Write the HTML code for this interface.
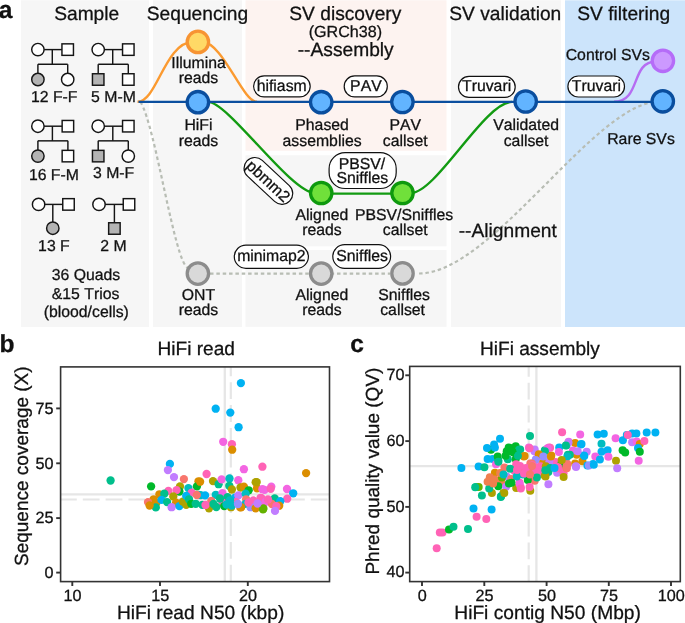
<!DOCTYPE html>
<html><head><meta charset="utf-8"><style>
html,body{margin:0;padding:0;background:#fff;}
svg{display:block;will-change:transform;}
text{font-family:"Liberation Sans", sans-serif;fill:#111;font-kerning:none;text-rendering:geometricPrecision;stroke:#111;stroke-width:0.28px;}
</style></head><body>
<svg width="685" height="623" viewBox="0 0 685 623" text-rendering="geometricPrecision">
<rect width="685" height="623" fill="#fff"/>
<rect x="21" y="0.3" width="128" height="326.7" fill="#f6f6f6"/>
<rect x="153" y="0.3" width="89" height="326.7" fill="#f6f6f6"/>
<rect x="245.5" y="0.3" width="201" height="150.5" fill="#fdf3f0"/>
<rect x="245.5" y="155.3" width="201" height="91" fill="#f6f6f6"/>
<rect x="245.5" y="250" width="201" height="76.8" fill="#f6f6f6"/>
<rect x="451" y="0.3" width="110" height="326.7" fill="#f6f6f6"/>
<rect x="565" y="0.3" width="120" height="326.7" fill="#cce4fb"/>
<text x="86.7" y="19.8" font-size="19.2" text-anchor="middle" >Sample</text>
<text x="197.5" y="19.8" font-size="19.2" text-anchor="middle" >Sequencing</text>
<text x="345.3" y="19.9" font-size="19.2" text-anchor="middle" >SV discovery</text>
<text x="345.4" y="37.35" font-size="16.1" text-anchor="middle" >(GRCh38)</text>
<text x="345.7" y="55.7" font-size="19.2" text-anchor="middle" >--Assembly</text>
<text x="505.3" y="19.8" font-size="19.2" text-anchor="middle" >SV validation</text>
<text x="623.7" y="19.8" font-size="19.2" text-anchor="middle" >SV filtering</text>
<text x="-1.3" y="17.6" font-size="24.6" font-weight="bold">a</text>
<line x1="43.9" y1="49.6" x2="62.1" y2="49.6" stroke="#151515" stroke-width="1.45"/><line x1="52.3" y1="49.6" x2="52.3" y2="64.25" stroke="#151515" stroke-width="1.45"/><line x1="37.9" y1="64.25" x2="67.7" y2="64.25" stroke="#151515" stroke-width="1.45"/><line x1="37.9" y1="64.25" x2="37.9" y2="73.5" stroke="#151515" stroke-width="1.45"/><line x1="67.7" y1="64.25" x2="67.7" y2="73.5" stroke="#151515" stroke-width="1.45"/><circle cx="37.9" cy="49.6" r="6.2" fill="#fff" stroke="#151515" stroke-width="1.45"/><rect x="61.95" y="43.85" width="11.5" height="11.5" fill="#fff" stroke="#151515" stroke-width="1.45"/><circle cx="37.9" cy="79.5" r="6.2" fill="#b3b3b3" stroke="#151515" stroke-width="1.45"/><circle cx="67.7" cy="79.5" r="6.2" fill="#fff" stroke="#151515" stroke-width="1.45"/>
<line x1="104.2" y1="49.6" x2="122.70000000000002" y2="49.6" stroke="#151515" stroke-width="1.45"/><line x1="112.7" y1="49.6" x2="112.7" y2="64.25" stroke="#151515" stroke-width="1.45"/><line x1="98.2" y1="64.25" x2="128.3" y2="64.25" stroke="#151515" stroke-width="1.45"/><line x1="98.2" y1="64.25" x2="98.2" y2="73.5" stroke="#151515" stroke-width="1.45"/><line x1="128.3" y1="64.25" x2="128.3" y2="73.5" stroke="#151515" stroke-width="1.45"/><circle cx="98.2" cy="49.6" r="6.2" fill="#fff" stroke="#151515" stroke-width="1.45"/><rect x="122.55" y="43.85" width="11.5" height="11.5" fill="#fff" stroke="#151515" stroke-width="1.45"/><rect x="92.45" y="73.75" width="11.5" height="11.5" fill="#b3b3b3" stroke="#151515" stroke-width="1.45"/><rect x="122.55" y="73.75" width="11.5" height="11.5" fill="#fff" stroke="#151515" stroke-width="1.45"/>
<line x1="43.9" y1="126.2" x2="62.300000000000004" y2="126.2" stroke="#151515" stroke-width="1.45"/><line x1="52.4" y1="126.2" x2="52.4" y2="140.85" stroke="#151515" stroke-width="1.45"/><line x1="37.9" y1="140.85" x2="67.9" y2="140.85" stroke="#151515" stroke-width="1.45"/><line x1="37.9" y1="140.85" x2="37.9" y2="150.1" stroke="#151515" stroke-width="1.45"/><line x1="67.9" y1="140.85" x2="67.9" y2="150.1" stroke="#151515" stroke-width="1.45"/><circle cx="37.9" cy="126.2" r="6.2" fill="#fff" stroke="#151515" stroke-width="1.45"/><rect x="62.15" y="120.45" width="11.5" height="11.5" fill="#fff" stroke="#151515" stroke-width="1.45"/><circle cx="37.9" cy="156.1" r="6.2" fill="#b3b3b3" stroke="#151515" stroke-width="1.45"/><rect x="62.15" y="150.35" width="11.5" height="11.5" fill="#fff" stroke="#151515" stroke-width="1.45"/>
<line x1="104.2" y1="126.2" x2="122.70000000000002" y2="126.2" stroke="#151515" stroke-width="1.45"/><line x1="112.8" y1="126.2" x2="112.8" y2="140.85" stroke="#151515" stroke-width="1.45"/><line x1="98.2" y1="140.85" x2="128.3" y2="140.85" stroke="#151515" stroke-width="1.45"/><line x1="98.2" y1="140.85" x2="98.2" y2="150.1" stroke="#151515" stroke-width="1.45"/><line x1="128.3" y1="140.85" x2="128.3" y2="150.1" stroke="#151515" stroke-width="1.45"/><circle cx="98.2" cy="126.2" r="6.2" fill="#fff" stroke="#151515" stroke-width="1.45"/><rect x="122.55" y="120.45" width="11.5" height="11.5" fill="#fff" stroke="#151515" stroke-width="1.45"/><rect x="92.45" y="150.35" width="11.5" height="11.5" fill="#b3b3b3" stroke="#151515" stroke-width="1.45"/><circle cx="128.3" cy="156.1" r="6.2" fill="#fff" stroke="#151515" stroke-width="1.45"/>
<line x1="44.6" y1="204.4" x2="62.9" y2="204.4" stroke="#151515" stroke-width="1.45"/><line x1="52.8" y1="204.4" x2="52.8" y2="222.2" stroke="#151515" stroke-width="1.45"/><circle cx="38.6" cy="204.4" r="6.2" fill="#fff" stroke="#151515" stroke-width="1.45"/><rect x="62.75" y="198.65" width="11.5" height="11.5" fill="#fff" stroke="#151515" stroke-width="1.45"/><circle cx="52.8" cy="228.2" r="6.2" fill="#b3b3b3" stroke="#151515" stroke-width="1.45"/>
<line x1="105.0" y1="204.4" x2="123.4" y2="204.4" stroke="#151515" stroke-width="1.45"/><line x1="114.4" y1="204.4" x2="114.4" y2="222.5" stroke="#151515" stroke-width="1.45"/><circle cx="99.0" cy="204.4" r="6.2" fill="#fff" stroke="#151515" stroke-width="1.45"/><rect x="123.25" y="198.65" width="11.5" height="11.5" fill="#fff" stroke="#151515" stroke-width="1.45"/><rect x="108.65" y="222.75" width="11.5" height="11.5" fill="#b3b3b3" stroke="#151515" stroke-width="1.45"/>
<text x="54.2" y="102.15" font-size="15.8" text-anchor="middle" >12 F-F</text>
<text x="113.5" y="102.15" font-size="15.8" text-anchor="middle" >5 M-M</text>
<text x="53.9" y="179.7" font-size="15.8" text-anchor="middle" >16 F-M</text>
<text x="113.6" y="177.5" font-size="15.8" text-anchor="middle" >3 M-F</text>
<text x="53.9" y="250.6" font-size="15.8" text-anchor="middle" >13 F</text>
<text x="113.5" y="250.6" font-size="15.8" text-anchor="middle" >2 M</text>
<text x="86.0" y="279.6" font-size="15.8" text-anchor="middle" >36 Quads</text>
<text x="85.6" y="298.7" font-size="15.8" text-anchor="middle" >&amp;15 Trios</text>
<text x="86.3" y="317.4" font-size="15.8" text-anchor="middle" >(blood/cells)</text>
<path d="M140,42 C152,42 152,42 140,42" fill="none"/>
<path d="M137.5,101.8 C157,101.8 165,42 193,42 M202.1,42 C222.9,42 242.4,101.8 256.9,101.8" fill="none" stroke="#fb9a30" stroke-width="2.4"/>
<path d="M140.5,102 C155.6,125.9 174.5,263 188,268" fill="none" stroke="#b8bdb4" stroke-width="2.2" stroke-dasharray="3.5 2.85"/>
<path d="M210,273.6 L390,273.6" fill="none" stroke="#b8bdb4" stroke-width="2.2" stroke-dasharray="3.5 2.85"/>
<path d="M419.1,273.5 C491.9,273.5 595.4,101.5 659,101.5" fill="none" stroke="#b8bdb4" stroke-width="2.2" stroke-dasharray="3.5 2.85"/>
<path d="M208,101.9 C228.4,101.9 290.8,193 315,193 M321,193.6 L402,193.6 M411,193 C436.2,193 484.8,101.9 512,101.9" fill="none" stroke="#129b12" stroke-width="2.4"/>
<path d="M614,101.8 C641.4,101.8 630.2,61.5 656,61.5" fill="none" stroke="#b66cf2" stroke-width="2.4"/>
<line x1="138.5" y1="101.8" x2="660" y2="101.8" stroke="#0b4f9f" stroke-width="2.2"/>
<circle cx="197.9" cy="41.9" r="10.7" fill="#ffd966" stroke="#f79433" stroke-width="3.3"/>
<circle cx="197.9" cy="102.2" r="10.7" fill="#62b4ff" stroke="#0a4e9e" stroke-width="3.3"/>
<circle cx="197.9" cy="273.6" r="10.7" fill="#d9d9d9" stroke="#8c8c8c" stroke-width="3.3"/>
<circle cx="321.2" cy="102.2" r="10.7" fill="#62b4ff" stroke="#0a4e9e" stroke-width="3.3"/>
<circle cx="402.4" cy="102.0" r="10.7" fill="#62b4ff" stroke="#0a4e9e" stroke-width="3.3"/>
<circle cx="525.7" cy="101.5" r="10.7" fill="#62b4ff" stroke="#0a4e9e" stroke-width="3.3"/>
<circle cx="662.9" cy="60.8" r="10.7" fill="#cc99ff" stroke="#b56cf8" stroke-width="3.3"/>
<circle cx="662.8" cy="101.3" r="10.7" fill="#62b4ff" stroke="#0a4e9e" stroke-width="3.3"/>
<circle cx="321.2" cy="193.0" r="10.7" fill="#70e03a" stroke="#0e990e" stroke-width="3.3"/>
<circle cx="402.5" cy="193.0" r="10.7" fill="#70e03a" stroke="#0e990e" stroke-width="3.3"/>
<circle cx="321.2" cy="273.6" r="10.7" fill="#d9d9d9" stroke="#8c8c8c" stroke-width="3.3"/>
<circle cx="402.5" cy="273.4" r="10.7" fill="#d9d9d9" stroke="#8c8c8c" stroke-width="3.3"/>
<rect x="253.6" y="75.8" width="56.6" height="21.1" rx="10.6" fill="#fff" stroke="#111" stroke-width="1.2"/>
<text x="281.7" y="90.9" font-size="15.8" text-anchor="middle" >hifiasm</text>
<rect x="344.2" y="75.9" width="43.1" height="21.0" rx="10.5" fill="#fff" stroke="#111" stroke-width="1.2"/>
<text x="365.9" y="91.0" font-size="15.8" text-anchor="middle" >PAV</text>
<rect x="458.5" y="76.4" width="56.7" height="21.0" rx="10.5" fill="#fff" stroke="#111" stroke-width="1.2"/>
<text x="486.6" y="91.2" font-size="15.8" text-anchor="middle" >Truvari</text>
<rect x="567.9" y="76.0" width="56.6" height="21.0" rx="10.5" fill="#fff" stroke="#111" stroke-width="1.2"/>
<text x="596.4" y="91.0" font-size="15.8" text-anchor="middle" >Truvari</text>
<rect x="329.1" y="152.7" width="67.1" height="35.8" rx="16.0" fill="#fff" stroke="#111" stroke-width="1.2"/>
<text x="362.0" y="168.95" font-size="15.8" text-anchor="middle" >PBSV/</text>
<text x="362.3" y="182.9" font-size="15.8" text-anchor="middle" >Sniffles</text>
<rect x="234.3" y="245.1" width="74.1" height="23.2" rx="11.6" fill="#fff" stroke="#111" stroke-width="1.2"/>
<text x="271.4" y="261.1" font-size="15.8" text-anchor="middle" >minimap2</text>
<rect x="332.8" y="244.6" width="57.8" height="23.7" rx="11.9" fill="#fff" stroke="#111" stroke-width="1.2"/>
<text x="362.1" y="261.1" font-size="15.8" text-anchor="middle" >Sniffles</text>
<g transform="translate(268.4,180.9) rotate(43)"><rect x="-29.3" y="-10.8" width="58.6" height="21.6" rx="10.8" fill="#fff" stroke="#111" stroke-width="1.2"/><text x="0" y="5.6" font-size="15.8" text-anchor="middle" >pbmm2</text></g>
<text x="507.8" y="236.7" font-size="19.2" text-anchor="middle" >--Alignment</text>
<text x="198.5" y="68.2" font-size="15.8" text-anchor="middle" >Illumina</text><text x="198.5" y="83.2" font-size="15.8" text-anchor="middle" >reads</text>
<text x="198.5" y="130.1" font-size="15.8" text-anchor="middle" >HiFi</text><text x="198.5" y="146.2" font-size="15.8" text-anchor="middle" >reads</text>
<text x="198.5" y="300.3" font-size="15.8" text-anchor="middle" >ONT</text><text x="198.5" y="315.4" font-size="15.8" text-anchor="middle" >reads</text>
<text x="322.1" y="130.2" font-size="15.8" text-anchor="middle" >Phased</text><text x="322.1" y="146.2" font-size="15.8" text-anchor="middle" >assemblies</text>
<text x="405.2" y="130.2" font-size="15.8" text-anchor="middle" >PAV</text><text x="405.2" y="146.2" font-size="15.8" text-anchor="middle" >callset</text>
<text x="526.1" y="130.2" font-size="15.8" text-anchor="middle" >Validated</text><text x="526.1" y="146.2" font-size="15.8" text-anchor="middle" >callset</text>
<text x="650.0" y="60.1" font-size="15.8" text-anchor="end" >Control SVs</text>
<text x="674.8" y="143.5" font-size="15.8" text-anchor="end" >Rare SVs</text>
<text x="321.9" y="220.2" font-size="15.8" text-anchor="middle" >Aligned</text><text x="321.9" y="235.2" font-size="15.8" text-anchor="middle" >reads</text>
<text x="404.1" y="220.2" font-size="15.8" text-anchor="middle" >PBSV/Sniffles</text><text x="405.2" y="235.2" font-size="15.8" text-anchor="middle" >callset</text>
<text x="321.9" y="300.2" font-size="15.8" text-anchor="middle" >Aligned</text><text x="321.9" y="315.4" font-size="15.8" text-anchor="middle" >reads</text>
<text x="404.1" y="300.2" font-size="15.8" text-anchor="middle" >Sniffles</text><text x="402.6" y="315.4" font-size="15.8" text-anchor="middle" >callset</text>
<text x="-0.6" y="352.3" font-size="24.6" font-weight="bold">b</text>
<text x="196.2" y="354.7" font-size="19.1" text-anchor="middle" >HiFi read</text>
<rect x="60.6" y="366.9" width="268.9" height="214.7" fill="#fff"/>
<line x1="60.6" y1="494.3" x2="329.5" y2="494.3" stroke="#e6e6e6" stroke-width="2.3"/>
<line x1="60.6" y1="499.5" x2="329.5" y2="499.5" stroke="#e6e6e6" stroke-width="2.2" stroke-dasharray="16.8 6" stroke-dashoffset="23.4"/>
<line x1="224.8" y1="366.9" x2="224.8" y2="581.6" stroke="#e6e6e6" stroke-width="2.3"/>
<line x1="230.8" y1="581.5" x2="230.8" y2="366.9" stroke="#e6e6e6" stroke-width="2.2" stroke-dasharray="16.8 6"/>
<circle cx="169.9" cy="463.9" r="4.15" fill="#00B2F2"/>
<circle cx="167.9" cy="470.1" r="4.15" fill="#C17DFF"/>
<circle cx="174.0" cy="477.1" r="4.15" fill="#C17DFF"/>
<circle cx="183.9" cy="479.1" r="4.15" fill="#F8766D"/>
<circle cx="151.1" cy="486.4" r="4.15" fill="#00B92A"/>
<circle cx="180.0" cy="486.4" r="4.15" fill="#AEA200"/>
<circle cx="179.4" cy="491.5" r="4.15" fill="#00B92A"/>
<circle cx="168.4" cy="490.9" r="4.15" fill="#FF63B6"/>
<circle cx="176.6" cy="490.1" r="4.15" fill="#FF63B6"/>
<circle cx="188.4" cy="488.1" r="4.15" fill="#00BDC0"/>
<circle cx="198.5" cy="481.3" r="4.15" fill="#DB8E00"/>
<circle cx="196.9" cy="486.4" r="4.15" fill="#00B92A"/>
<circle cx="191.6" cy="492.6" r="4.15" fill="#FF63B6"/>
<circle cx="198.5" cy="494.8" r="4.15" fill="#00BDC0"/>
<circle cx="159.4" cy="494.3" r="4.15" fill="#DB8E00"/>
<circle cx="164.3" cy="493.7" r="4.15" fill="#00BF8C"/>
<circle cx="153.6" cy="499.3" r="4.15" fill="#DB8E00"/>
<circle cx="148.0" cy="502.1" r="4.15" fill="#F8766D"/>
<circle cx="156.4" cy="502.7" r="4.15" fill="#DB8E00"/>
<circle cx="155.8" cy="507.4" r="4.15" fill="#00BF8C"/>
<circle cx="161.5" cy="499.9" r="4.15" fill="#00B2F2"/>
<circle cx="167.1" cy="502.1" r="4.15" fill="#00BF8C"/>
<circle cx="173.3" cy="496.5" r="4.15" fill="#AEA200"/>
<circle cx="176.1" cy="502.7" r="4.15" fill="#DB8E00"/>
<circle cx="171.6" cy="507.2" r="4.15" fill="#C17DFF"/>
<circle cx="179.4" cy="506.1" r="4.15" fill="#00B2F2"/>
<circle cx="182.8" cy="501.6" r="4.15" fill="#AEA200"/>
<circle cx="186.2" cy="504.9" r="4.15" fill="#AEA200"/>
<circle cx="186.2" cy="495.9" r="4.15" fill="#00B2F2"/>
<circle cx="189.0" cy="499.3" r="4.15" fill="#00BF8C"/>
<circle cx="191.2" cy="503.8" r="4.15" fill="#00B92A"/>
<circle cx="195.7" cy="503.8" r="4.15" fill="#00BF8C"/>
<circle cx="243.9" cy="469.2" r="4.15" fill="#F365E2"/>
<circle cx="262.4" cy="466.7" r="4.15" fill="#FF63B6"/>
<circle cx="206.6" cy="474.0" r="4.15" fill="#FF63B6"/>
<circle cx="200.1" cy="481.7" r="4.15" fill="#DB8E00"/>
<circle cx="213.0" cy="481.1" r="4.15" fill="#AEA200"/>
<circle cx="218.6" cy="484.2" r="4.15" fill="#00BF8C"/>
<circle cx="221.6" cy="479.4" r="4.15" fill="#F365E2"/>
<circle cx="229.5" cy="478.5" r="4.15" fill="#00BDC0"/>
<circle cx="238.3" cy="480.2" r="4.15" fill="#F365E2"/>
<circle cx="229.3" cy="485.8" r="4.15" fill="#00BF8C"/>
<circle cx="231.9" cy="489.5" r="4.15" fill="#AEA200"/>
<circle cx="240.5" cy="487.5" r="4.15" fill="#AEA200"/>
<circle cx="243.9" cy="486.7" r="4.15" fill="#DB8E00"/>
<circle cx="248.7" cy="490.3" r="4.15" fill="#00B92A"/>
<circle cx="255.7" cy="482.2" r="4.15" fill="#AEA200"/>
<circle cx="257.0" cy="488.3" r="4.15" fill="#DB8E00"/>
<circle cx="200.6" cy="495.1" r="4.15" fill="#00BDC0"/>
<circle cx="205.1" cy="495.4" r="4.15" fill="#00B2F2"/>
<circle cx="215.8" cy="494.8" r="4.15" fill="#00BDC0"/>
<circle cx="222.5" cy="493.1" r="4.15" fill="#F365E2"/>
<circle cx="227.6" cy="497.1" r="4.15" fill="#00BF8C"/>
<circle cx="234.9" cy="497.6" r="4.15" fill="#00B2F2"/>
<circle cx="238.3" cy="495.4" r="4.15" fill="#C17DFF"/>
<circle cx="245.6" cy="493.7" r="4.15" fill="#00BDC0"/>
<circle cx="262.4" cy="489.2" r="4.15" fill="#F365E2"/>
<circle cx="211.3" cy="501.0" r="4.15" fill="#F8766D"/>
<circle cx="222.5" cy="502.7" r="4.15" fill="#FF63B6"/>
<circle cx="236.0" cy="502.1" r="4.15" fill="#FF63B6"/>
<circle cx="246.1" cy="499.3" r="4.15" fill="#F8766D"/>
<circle cx="253.4" cy="500.5" r="4.15" fill="#FF63B6"/>
<circle cx="261.3" cy="498.2" r="4.15" fill="#FF63B6"/>
<circle cx="202.3" cy="504.9" r="4.15" fill="#00BF8C"/>
<circle cx="209.0" cy="508.3" r="4.15" fill="#AEA200"/>
<circle cx="216.3" cy="507.0" r="4.15" fill="#00BF8C"/>
<circle cx="224.2" cy="506.1" r="4.15" fill="#00B92A"/>
<circle cx="229.8" cy="503.8" r="4.15" fill="#00BDC0"/>
<circle cx="231.0" cy="507.2" r="4.15" fill="#AEA200"/>
<circle cx="245.6" cy="503.8" r="4.15" fill="#00BDC0"/>
<circle cx="250.6" cy="507.2" r="4.15" fill="#9590FF"/>
<circle cx="241.1" cy="507.2" r="4.15" fill="#DB8E00"/>
<circle cx="255.7" cy="508.3" r="4.15" fill="#DB8E00"/>
<circle cx="263.0" cy="509.4" r="4.15" fill="#64B200"/>
<circle cx="263.5" cy="502.7" r="4.15" fill="#F365E2"/>
<circle cx="256.7" cy="482.1" r="4.15" fill="#AEA200"/>
<circle cx="264.6" cy="489.9" r="4.15" fill="#F365E2"/>
<circle cx="271.3" cy="486.6" r="4.15" fill="#F365E2"/>
<circle cx="270.7" cy="488.8" r="4.15" fill="#FF63B6"/>
<circle cx="287.0" cy="489.0" r="4.15" fill="#F365E2"/>
<circle cx="293.2" cy="493.3" r="4.15" fill="#00B2F2"/>
<circle cx="287.2" cy="498.7" r="4.15" fill="#FF63B6"/>
<circle cx="274.7" cy="498.4" r="4.15" fill="#00BF8C"/>
<circle cx="280.3" cy="501.2" r="4.15" fill="#00B2F2"/>
<circle cx="260.6" cy="497.8" r="4.15" fill="#FF63B6"/>
<circle cx="265.7" cy="501.7" r="4.15" fill="#F365E2"/>
<circle cx="271.9" cy="504.0" r="4.15" fill="#F8766D"/>
<circle cx="279.2" cy="505.7" r="4.15" fill="#DB8E00"/>
<circle cx="276.3" cy="506.2" r="4.15" fill="#FF63B6"/>
<circle cx="263.4" cy="508.5" r="4.15" fill="#64B200"/>
<circle cx="275.0" cy="510.9" r="4.15" fill="#C17DFF"/>
<circle cx="240.3" cy="507.3" r="4.15" fill="#DB8E00"/>
<circle cx="240.9" cy="383.1" r="4.15" fill="#00B2F2"/>
<circle cx="215.7" cy="408.7" r="4.15" fill="#00B2F2"/>
<circle cx="230.3" cy="412.6" r="4.15" fill="#00B2F2"/>
<circle cx="238.6" cy="427.2" r="4.15" fill="#00B2F2"/>
<circle cx="223.2" cy="441.8" r="4.15" fill="#F365E2"/>
<circle cx="231.9" cy="444.2" r="4.15" fill="#FF63B6"/>
<circle cx="232.2" cy="449.7" r="4.15" fill="#DB8E00"/>
<circle cx="306.1" cy="473.1" r="4.15" fill="#DB8E00"/>
<circle cx="110.6" cy="480.5" r="4.15" fill="#00BF8C"/>
<circle cx="220.0" cy="498.5" r="4.15" fill="#00BF8C"/>
<circle cx="230.0" cy="500.3" r="4.15" fill="#00BDC0"/>
<circle cx="196.8" cy="495.0" r="4.15" fill="#F8766D"/>
<circle cx="231.8" cy="505.5" r="4.15" fill="#00BDC0"/>
<circle cx="149.6" cy="505.5" r="4.15" fill="#DB8E00"/>
<circle cx="205.5" cy="505.0" r="4.15" fill="#FF63B6"/>
<circle cx="213.5" cy="504.0" r="4.15" fill="#00BF8C"/>
<circle cx="226.5" cy="504.5" r="4.15" fill="#00BDC0"/>
<circle cx="238.0" cy="504.0" r="4.15" fill="#9590FF"/>
<circle cx="248.5" cy="502.5" r="4.15" fill="#FF63B6"/>
<circle cx="257.5" cy="503.5" r="4.15" fill="#C17DFF"/>
<circle cx="268.0" cy="499.5" r="4.15" fill="#FF63B6"/>
<rect x="60.6" y="366.9" width="268.9" height="214.7" fill="none" stroke="#333333" stroke-width="1.6"/>
<line x1="56.2" y1="408.4" x2="60.6" y2="408.4" stroke="#333333" stroke-width="1.9"/>
<text x="53.6" y="413.59999999999997" font-size="16.2" text-anchor="end" >75</text>
<line x1="56.2" y1="463.3" x2="60.6" y2="463.3" stroke="#333333" stroke-width="1.9"/>
<text x="53.6" y="468.5" font-size="16.2" text-anchor="end" >50</text>
<line x1="56.2" y1="518.1" x2="60.6" y2="518.1" stroke="#333333" stroke-width="1.9"/>
<text x="53.6" y="523.3000000000001" font-size="16.2" text-anchor="end" >25</text>
<line x1="56.2" y1="572.6" x2="60.6" y2="572.6" stroke="#333333" stroke-width="1.9"/>
<text x="53.6" y="577.8000000000001" font-size="16.2" text-anchor="end" >0</text>
<line x1="72.3" y1="581.6" x2="72.3" y2="586" stroke="#333333" stroke-width="1.9"/>
<text x="72.6" y="600.9" font-size="16.2" text-anchor="middle" >10</text>
<line x1="160.0" y1="581.6" x2="160.0" y2="586" stroke="#333333" stroke-width="1.9"/>
<text x="160.3" y="600.9" font-size="16.2" text-anchor="middle" >15</text>
<line x1="247.8" y1="581.6" x2="247.8" y2="586" stroke="#333333" stroke-width="1.9"/>
<text x="248.10000000000002" y="600.9" font-size="16.2" text-anchor="middle" >20</text>
<text x="200.6" y="618.8" font-size="19.2" text-anchor="middle" >HiFi read N50 (kbp)</text>
<text transform="translate(27.9,566.0) rotate(-90)" font-size="19.0">Sequence coverage (X)</text>
<text x="350.3" y="352.3" font-size="24.6" font-weight="bold">c</text>
<text x="539.9" y="355.0" font-size="19.1" text-anchor="middle" >HiFi assembly</text>
<rect x="409.7" y="366.4" width="270.6" height="215.2" fill="#fff"/>
<line x1="409.7" y1="466.1" x2="680.3" y2="466.1" stroke="#e6e6e6" stroke-width="2.3"/>
<line x1="536.4" y1="366.4" x2="536.4" y2="581.6" stroke="#e6e6e6" stroke-width="2.3"/>
<line x1="528.7" y1="582.0" x2="528.7" y2="366.4" stroke="#e6e6e6" stroke-width="2.2" stroke-dasharray="16.8 6"/>
<circle cx="436.7" cy="548.3" r="4.0" fill="#FF63B6"/>
<circle cx="439.8" cy="532.5" r="4.0" fill="#FF63B6"/>
<circle cx="442.5" cy="532.5" r="4.0" fill="#FF63B6"/>
<circle cx="449.0" cy="529.4" r="4.0" fill="#00B92A"/>
<circle cx="453.5" cy="526.8" r="4.0" fill="#00BF8C"/>
<circle cx="468.0" cy="529.1" r="4.0" fill="#00BF8C"/>
<circle cx="476.6" cy="516.8" r="4.0" fill="#FF63B6"/>
<circle cx="486.3" cy="518.9" r="4.0" fill="#FF63B6"/>
<circle cx="473.5" cy="508.6" r="4.0" fill="#00B2F2"/>
<circle cx="491.6" cy="509.4" r="4.0" fill="#00B2F2"/>
<circle cx="481.9" cy="495.5" r="4.0" fill="#00BF8C"/>
<circle cx="476.1" cy="487.1" r="4.0" fill="#00BF8C"/>
<circle cx="478.7" cy="487.1" r="4.0" fill="#64B200"/>
<circle cx="491.9" cy="493.1" r="4.0" fill="#AEA200"/>
<circle cx="489.2" cy="488.4" r="4.0" fill="#00BF8C"/>
<circle cx="500.8" cy="497.1" r="4.0" fill="#00BF8C"/>
<circle cx="503.4" cy="493.1" r="4.0" fill="#AEA200"/>
<circle cx="461.4" cy="468.0" r="4.0" fill="#00B2F2"/>
<circle cx="500.0" cy="438.8" r="4.0" fill="#00B2F2"/>
<circle cx="494.1" cy="444.6" r="4.0" fill="#00B2F2"/>
<circle cx="491.0" cy="449.7" r="4.0" fill="#00B92A"/>
<circle cx="487.0" cy="448.0" r="4.0" fill="#00B2F2"/>
<circle cx="494.9" cy="447.4" r="4.0" fill="#00B2F2"/>
<circle cx="487.6" cy="459.0" r="4.0" fill="#00B2F2"/>
<circle cx="492.6" cy="459.0" r="4.0" fill="#00B2F2"/>
<circle cx="478.6" cy="466.5" r="4.0" fill="#00B2F2"/>
<circle cx="484.4" cy="467.3" r="4.0" fill="#00BF8C"/>
<circle cx="496.0" cy="464.3" r="4.0" fill="#F365E2"/>
<circle cx="498.3" cy="460.3" r="4.0" fill="#00BF8C"/>
<circle cx="497.7" cy="456.4" r="4.0" fill="#00B92A"/>
<circle cx="506.7" cy="451.3" r="4.0" fill="#00B92A"/>
<circle cx="510.0" cy="448.0" r="4.0" fill="#00B92A"/>
<circle cx="515.7" cy="446.3" r="4.0" fill="#00B92A"/>
<circle cx="519.0" cy="449.7" r="4.0" fill="#00BF8C"/>
<circle cx="513.4" cy="452.5" r="4.0" fill="#00B92A"/>
<circle cx="507.8" cy="459.2" r="4.0" fill="#00BF8C"/>
<circle cx="515.7" cy="459.2" r="4.0" fill="#00B92A"/>
<circle cx="494.9" cy="472.7" r="4.0" fill="#DB8E00"/>
<circle cx="504.4" cy="467.6" r="4.0" fill="#F8766D"/>
<circle cx="516.2" cy="464.3" r="4.0" fill="#FF63B6"/>
<circle cx="514.6" cy="471.0" r="4.0" fill="#FF63B6"/>
<circle cx="489.8" cy="477.2" r="4.0" fill="#F07F4E"/>
<circle cx="487.6" cy="481.7" r="4.0" fill="#F07F4E"/>
<circle cx="494.9" cy="479.4" r="4.0" fill="#F07F4E"/>
<circle cx="501.6" cy="482.8" r="4.0" fill="#F07F4E"/>
<circle cx="506.7" cy="476.6" r="4.0" fill="#C17DFF"/>
<circle cx="511.2" cy="478.9" r="4.0" fill="#F8766D"/>
<circle cx="475.2" cy="487.3" r="4.0" fill="#00BF8C"/>
<circle cx="498.3" cy="486.2" r="4.0" fill="#00B92A"/>
<circle cx="501.0" cy="496.3" r="4.0" fill="#00BF8C"/>
<circle cx="506.1" cy="486.7" r="4.0" fill="#C17DFF"/>
<circle cx="516.2" cy="487.9" r="4.0" fill="#AEA200"/>
<circle cx="520.7" cy="487.3" r="4.0" fill="#FF63B6"/>
<circle cx="519.6" cy="482.8" r="4.0" fill="#FF63B6"/>
<circle cx="530.0" cy="435.9" r="4.0" fill="#00BF8C"/>
<circle cx="562.1" cy="432.3" r="4.0" fill="#FF63B6"/>
<circle cx="580.2" cy="434.5" r="4.0" fill="#F365E2"/>
<circle cx="508.7" cy="447.5" r="4.0" fill="#00B92A"/>
<circle cx="520.2" cy="449.6" r="4.0" fill="#00BF8C"/>
<circle cx="528.9" cy="447.5" r="4.0" fill="#F365E2"/>
<circle cx="534.7" cy="449.6" r="4.0" fill="#C17DFF"/>
<circle cx="544.8" cy="450.3" r="4.0" fill="#00BF8C"/>
<circle cx="549.1" cy="447.5" r="4.0" fill="#FF63B6"/>
<circle cx="559.2" cy="447.5" r="4.0" fill="#00B2F2"/>
<circle cx="566.5" cy="445.3" r="4.0" fill="#00BF8C"/>
<circle cx="568.6" cy="441.7" r="4.0" fill="#F365E2"/>
<circle cx="575.1" cy="443.1" r="4.0" fill="#DB8E00"/>
<circle cx="580.9" cy="444.6" r="4.0" fill="#00B2F2"/>
<circle cx="586.7" cy="451.8" r="4.0" fill="#C17DFF"/>
<circle cx="524.6" cy="456.1" r="4.0" fill="#DB8E00"/>
<circle cx="536.1" cy="459.0" r="4.0" fill="#C17DFF"/>
<circle cx="542.6" cy="456.1" r="4.0" fill="#C17DFF"/>
<circle cx="551.3" cy="455.4" r="4.0" fill="#DB8E00"/>
<circle cx="567.9" cy="454.7" r="4.0" fill="#00BF8C"/>
<circle cx="576.6" cy="454.7" r="4.0" fill="#DB8E00"/>
<circle cx="583.8" cy="455.4" r="4.0" fill="#00B2F2"/>
<circle cx="530.3" cy="463.4" r="4.0" fill="#F8766D"/>
<circle cx="539.7" cy="467.7" r="4.0" fill="#FF63B6"/>
<circle cx="544.8" cy="464.8" r="4.0" fill="#DB8E00"/>
<circle cx="549.1" cy="462.6" r="4.0" fill="#C17DFF"/>
<circle cx="555.6" cy="461.9" r="4.0" fill="#FF63B6"/>
<circle cx="575.1" cy="463.4" r="4.0" fill="#DB8E00"/>
<circle cx="582.4" cy="461.2" r="4.0" fill="#DB8E00"/>
<circle cx="587.4" cy="465.5" r="4.0" fill="#00B2F2"/>
<circle cx="575.9" cy="466.2" r="4.0" fill="#C17DFF"/>
<circle cx="521.7" cy="470.6" r="4.0" fill="#F8766D"/>
<circle cx="528.2" cy="471.3" r="4.0" fill="#FF63B6"/>
<circle cx="539.7" cy="473.5" r="4.0" fill="#FF63B6"/>
<circle cx="548.4" cy="472.0" r="4.0" fill="#00BF8C"/>
<circle cx="557.1" cy="472.7" r="4.0" fill="#C17DFF"/>
<circle cx="559.2" cy="468.4" r="4.0" fill="#FF63B6"/>
<circle cx="563.6" cy="473.5" r="4.0" fill="#FF63B6"/>
<circle cx="566.5" cy="467.7" r="4.0" fill="#F8766D"/>
<circle cx="545.5" cy="476.4" r="4.0" fill="#AEA200"/>
<circle cx="528.2" cy="479.2" r="4.0" fill="#00B92A"/>
<circle cx="534.7" cy="480.7" r="4.0" fill="#F8766D"/>
<circle cx="563.6" cy="477.1" r="4.0" fill="#AEA200"/>
<circle cx="548.4" cy="484.3" r="4.0" fill="#C17DFF"/>
<circle cx="530.3" cy="490.8" r="4.0" fill="#AEA200"/>
<circle cx="504.3" cy="493.0" r="4.0" fill="#AEA200"/>
<circle cx="597.6" cy="434.6" r="4.0" fill="#00B2F2"/>
<circle cx="603.8" cy="433.7" r="4.0" fill="#00B2F2"/>
<circle cx="581.5" cy="444.1" r="4.0" fill="#00B2F2"/>
<circle cx="601.5" cy="443.8" r="4.0" fill="#00BDC0"/>
<circle cx="601.5" cy="451.8" r="4.0" fill="#00B2F2"/>
<circle cx="607.6" cy="450.3" r="4.0" fill="#00B2F2"/>
<circle cx="595.3" cy="456.4" r="4.0" fill="#F365E2"/>
<circle cx="608.4" cy="456.7" r="4.0" fill="#F365E2"/>
<circle cx="599.9" cy="459.5" r="4.0" fill="#00B2F2"/>
<circle cx="593.0" cy="464.0" r="4.0" fill="#00B2F2"/>
<circle cx="588.9" cy="465.6" r="4.0" fill="#9590FF"/>
<circle cx="615.6" cy="438.3" r="4.0" fill="#F365E2"/>
<circle cx="622.9" cy="440.3" r="4.0" fill="#00B2F2"/>
<circle cx="626.8" cy="434.9" r="4.0" fill="#00B2F2"/>
<circle cx="632.1" cy="433.4" r="4.0" fill="#00B2F2"/>
<circle cx="636.4" cy="433.4" r="4.0" fill="#00B2F2"/>
<circle cx="627.8" cy="434.9" r="4.0" fill="#FF63B6"/>
<circle cx="646.7" cy="432.6" r="4.0" fill="#00B2F2"/>
<circle cx="655.4" cy="432.6" r="4.0" fill="#00B2F2"/>
<circle cx="632.1" cy="442.3" r="4.0" fill="#C17DFF"/>
<circle cx="636.7" cy="441.4" r="4.0" fill="#F365E2"/>
<circle cx="639.8" cy="444.1" r="4.0" fill="#DB8E00"/>
<circle cx="644.4" cy="441.1" r="4.0" fill="#FF63B6"/>
<circle cx="638.0" cy="448.0" r="4.0" fill="#00B2F2"/>
<circle cx="639.8" cy="451.8" r="4.0" fill="#00B92A"/>
<circle cx="622.6" cy="450.3" r="4.0" fill="#00B92A"/>
<circle cx="625.2" cy="452.6" r="4.0" fill="#00B92A"/>
<circle cx="616.0" cy="460.7" r="4.0" fill="#AEA200"/>
<circle cx="617.2" cy="468.3" r="4.0" fill="#C17DFF"/>
<circle cx="638.7" cy="460.7" r="4.0" fill="#F365E2"/>
<circle cx="540.1" cy="472.8" r="4.0" fill="#FF63B6"/>
<circle cx="544.8" cy="475.8" r="4.0" fill="#AEA200"/>
<circle cx="527.8" cy="479.9" r="4.0" fill="#00B92A"/>
<circle cx="519.6" cy="484.0" r="4.0" fill="#F365E2"/>
<circle cx="520.8" cy="488.6" r="4.0" fill="#FF63B6"/>
<circle cx="529.6" cy="486.9" r="4.0" fill="#FF63B6"/>
<circle cx="568.5" cy="442.5" r="4.0" fill="#C17DFF"/>
<circle cx="565.9" cy="445.6" r="4.0" fill="#00BF8C"/>
<circle cx="550.1" cy="447.8" r="4.0" fill="#FF63B6"/>
<circle cx="547.5" cy="448.2" r="4.0" fill="#F365E2"/>
<circle cx="544.9" cy="451.3" r="4.0" fill="#00BF8C"/>
<circle cx="558.9" cy="452.1" r="4.0" fill="#F365E2"/>
<circle cx="572.9" cy="450.4" r="4.0" fill="#F365E2"/>
<circle cx="577.7" cy="451.3" r="4.0" fill="#C17DFF"/>
<circle cx="534.4" cy="451.3" r="4.0" fill="#C17DFF"/>
<circle cx="569.8" cy="454.8" r="4.0" fill="#00BF8C"/>
<circle cx="538.8" cy="454.3" r="4.0" fill="#DB8E00"/>
<circle cx="584.3" cy="456.1" r="4.0" fill="#00B2F2"/>
<circle cx="535.7" cy="460.0" r="4.0" fill="#9590FF"/>
<circle cx="543.1" cy="462.7" r="4.0" fill="#DB8E00"/>
<circle cx="549.3" cy="461.8" r="4.0" fill="#C17DFF"/>
<circle cx="563.3" cy="460.9" r="4.0" fill="#AEA200"/>
<circle cx="561.5" cy="463.5" r="4.0" fill="#00B92A"/>
<circle cx="566.8" cy="463.5" r="4.0" fill="#F8766D"/>
<circle cx="576.0" cy="467.0" r="4.0" fill="#C17DFF"/>
<circle cx="531.8" cy="463.5" r="4.0" fill="#F8766D"/>
<circle cx="540.5" cy="466.2" r="4.0" fill="#FF63B6"/>
<circle cx="534.4" cy="467.0" r="4.0" fill="#FF63B6"/>
<circle cx="545.8" cy="466.2" r="4.0" fill="#AEA200"/>
<circle cx="558.0" cy="467.0" r="4.0" fill="#FF63B6"/>
<circle cx="566.3" cy="467.0" r="4.0" fill="#F8766D"/>
<circle cx="550.1" cy="467.9" r="4.0" fill="#00BF8C"/>
<circle cx="554.5" cy="467.9" r="4.0" fill="#00B2F2"/>
<circle cx="510.2" cy="468.8" r="4.0" fill="#00BF8C"/>
<circle cx="516.8" cy="476.6" r="4.0" fill="#00BDC0"/>
<circle cx="522.9" cy="474.4" r="4.0" fill="#00BDC0"/>
<circle cx="501.9" cy="477.5" r="4.0" fill="#64B200"/>
<circle cx="511.5" cy="482.8" r="4.0" fill="#00B92A"/>
<circle cx="508.9" cy="483.6" r="4.0" fill="#00B92A"/>
<circle cx="493.1" cy="483.6" r="4.0" fill="#F07F4E"/>
<circle cx="532.5" cy="465.3" r="4.0" fill="#FF63B6"/>
<circle cx="522.0" cy="468.8" r="4.0" fill="#F8766D"/>
<circle cx="529.0" cy="471.4" r="4.0" fill="#F8766D"/>
<circle cx="536.0" cy="472.3" r="4.0" fill="#FF63B6"/>
<circle cx="500.1" cy="473.1" r="4.0" fill="#F07F4E"/>
<circle cx="498.4" cy="461.8" r="4.0" fill="#00BF8C"/>
<circle cx="536.9" cy="477.5" r="4.0" fill="#00BF8C"/>
<circle cx="567.3" cy="456.5" r="4.0" fill="#00BDC0"/>
<circle cx="593.8" cy="464.7" r="4.0" fill="#00B2F2"/>
<circle cx="567.3" cy="464.2" r="4.0" fill="#F8766D"/>
<circle cx="566.8" cy="468.3" r="4.0" fill="#F8766D"/>
<circle cx="543.3" cy="456.5" r="4.0" fill="#9590FF"/>
<circle cx="550.9" cy="456.5" r="4.0" fill="#DB8E00"/>
<circle cx="561.7" cy="460.1" r="4.0" fill="#AEA200"/>
<circle cx="545.3" cy="470.3" r="4.0" fill="#00BF8C"/>
<circle cx="529.5" cy="448.2" r="4.0" fill="#FF63B6"/>
<circle cx="523.8" cy="456.5" r="4.0" fill="#DB8E00"/>
<circle cx="505.6" cy="455.8" r="4.0" fill="#00B92A"/>
<circle cx="517.9" cy="455.8" r="4.0" fill="#00BF8C"/>
<circle cx="511.2" cy="451.3" r="4.0" fill="#00B92A"/>
<circle cx="503.5" cy="474.5" r="4.0" fill="#00BDC0"/>
<circle cx="520.0" cy="466.0" r="4.0" fill="#FF63B6"/>
<circle cx="526.0" cy="468.0" r="4.0" fill="#FF63B6"/>
<circle cx="532.0" cy="466.0" r="4.0" fill="#F8766D"/>
<circle cx="517.0" cy="470.0" r="4.0" fill="#FF63B6"/>
<circle cx="524.0" cy="473.5" r="4.0" fill="#FF63B6"/>
<circle cx="530.0" cy="474.5" r="4.0" fill="#F8766D"/>
<rect x="409.7" y="366.4" width="270.6" height="215.2" fill="none" stroke="#333333" stroke-width="1.6"/>
<line x1="405.3" y1="375.3" x2="409.7" y2="375.3" stroke="#333333" stroke-width="1.9"/>
<text x="404.4" y="379.90000000000003" font-size="16.2" text-anchor="end" >70</text>
<line x1="405.3" y1="441.1" x2="409.7" y2="441.1" stroke="#333333" stroke-width="1.9"/>
<text x="404.4" y="445.70000000000005" font-size="16.2" text-anchor="end" >60</text>
<line x1="405.3" y1="506.9" x2="409.7" y2="506.9" stroke="#333333" stroke-width="1.9"/>
<text x="404.4" y="511.5" font-size="16.2" text-anchor="end" >50</text>
<line x1="405.3" y1="572.6" x2="409.7" y2="572.6" stroke="#333333" stroke-width="1.9"/>
<text x="404.4" y="577.2" font-size="16.2" text-anchor="end" >40</text>
<line x1="422.0" y1="581.6" x2="422.0" y2="586" stroke="#333333" stroke-width="1.9"/>
<text x="422.3" y="600.9" font-size="16.2" text-anchor="middle" >0</text>
<line x1="484.3" y1="581.6" x2="484.3" y2="586" stroke="#333333" stroke-width="1.9"/>
<text x="484.6" y="600.9" font-size="16.2" text-anchor="middle" >25</text>
<line x1="546.6" y1="581.6" x2="546.6" y2="586" stroke="#333333" stroke-width="1.9"/>
<text x="546.9" y="600.9" font-size="16.2" text-anchor="middle" >50</text>
<line x1="608.8" y1="581.6" x2="608.8" y2="586" stroke="#333333" stroke-width="1.9"/>
<text x="609.0999999999999" y="600.9" font-size="16.2" text-anchor="middle" >75</text>
<line x1="671.0" y1="581.6" x2="671.0" y2="586" stroke="#333333" stroke-width="1.9"/>
<text x="671.3" y="600.9" font-size="16.2" text-anchor="middle" >100</text>
<text x="547.6" y="618.6" font-size="19.2" text-anchor="middle" >HiFi contig N50 (Mbp)</text>
<text transform="translate(378.9,574.6) rotate(-90)" font-size="19.0">Phred quality value (QV)</text>
</svg>
</body></html>
